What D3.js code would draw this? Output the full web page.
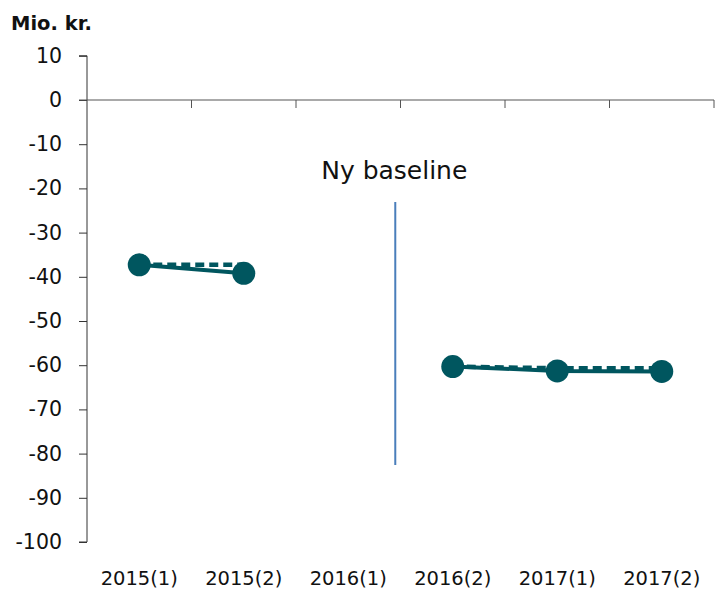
<!DOCTYPE html>
<html><head><meta charset="utf-8">
<script src="https://cdn.jsdelivr.net/npm/d3@7"></script>
<style>body{margin:0;background:#fff}svg{display:block}</style>
</head><body>
<script>
const categories = ["2015(1)","2015(2)","2016(1)","2016(2)","2017(1)","2017(2)"];
const solidValues = [-37.3, -39.2, null, -60.3, -61.3, -61.4];
const dashedValues = [-37.3, -37.3, null, -60.3, -60.7, -60.7];
const yTicks = [10,0,-10,-20,-30,-40,-50,-60,-70,-80,-90,-100];
const baselineLabel = "Ny baseline";
const baselinePos = 2.45;            // in category-index units
const baselineRange = [-23.1, -82.6];
const unitLabel = "Mio. kr.";

const W = 715, H = 589;
const svg = d3.select("body").append("svg").attr("width", W).attr("height", H);
const font = "DejaVu Sans";
const col = "#00565f";
const left = 87;

const x = d3.scaleBand().domain(categories).range([left, 714]);
const xi = d3.scaleLinear().domain([0, 1]).range([x(categories[0]) + x.bandwidth() / 2, x(categories[1]) + x.bandwidth() / 2]);
const y = d3.scaleLinear().domain([-100, 10]).range([542, 55.8]);

// y axis
const yAx = svg.append("g").attr("transform", `translate(${left},0)`)
  .call(d3.axisLeft(y).tickValues(yTicks).tickSize(8).tickPadding(16).tickFormat(d => String(d)));
yAx.select(".domain").attr("stroke", "#333").attr("d", `M-8,${y(10)}H0V${y(-100)}H-8`);
yAx.selectAll(".tick line").attr("stroke", "#333");
yAx.selectAll("text").attr("font-family", font).attr("font-size", 20.5).attr("fill", "#111")
  .attr("dx", -1);

// x axis at zero
const xAx = svg.append("g").attr("transform", `translate(0,${y(0)})`);
xAx.append("path").attr("stroke", "#555").attr("fill", "none").attr("d", `M${left - 8},0H714`);
const bounds = categories.map(c => x(c) + x.bandwidth());
xAx.selectAll(".bnd").data(bounds).enter().append("line")
  .attr("x1", d => d).attr("x2", d => d).attr("y1", 0).attr("y2", 8).attr("stroke", "#555");

// x labels at bottom
svg.append("g").selectAll("text").data(categories).enter().append("text")
  .attr("x", d => x(d) + x.bandwidth() / 2).attr("y", 585)
  .attr("text-anchor", "middle").attr("font-family", font).attr("font-size", 19.5)
  .attr("fill", "#111").text(d => d);

// unit label
svg.append("text").attr("x", 11).attr("y", 30).attr("font-family", font)
  .attr("font-weight", "bold").attr("font-size", 19.5).attr("fill", "#111").text(unitLabel);

// baseline marker
const bx = xi(baselinePos);
svg.append("line").attr("x1", bx).attr("x2", bx)
  .attr("y1", y(baselineRange[0])).attr("y2", y(baselineRange[1]))
  .attr("stroke", "#4a7ebb").attr("stroke-width", 2);
svg.append("text").attr("x", bx - 1).attr("y", 179).attr("text-anchor", "middle")
  .attr("font-family", font).attr("font-size", 25).attr("fill", "#111").text(baselineLabel);

const cx = i => xi(i);
const line = d3.line().defined(d => d != null).x((d, i) => cx(i)).y(d => y(d));

svg.append("path").datum(dashedValues).attr("d", line).attr("fill", "none")
  .attr("stroke", col).attr("stroke-width", 4.5).attr("stroke-dasharray", "9,5");
svg.append("path").datum(solidValues).attr("d", line).attr("fill", "none")
  .attr("stroke", col).attr("stroke-width", 4);
svg.append("g").selectAll("circle").data(solidValues.map((v, i) => ({v, i})).filter(d => d.v != null))
  .enter().append("circle").attr("cx", d => cx(d.i)).attr("cy", d => y(d.v))
  .attr("r", 11.5).attr("fill", col);
</script>
</body></html>
